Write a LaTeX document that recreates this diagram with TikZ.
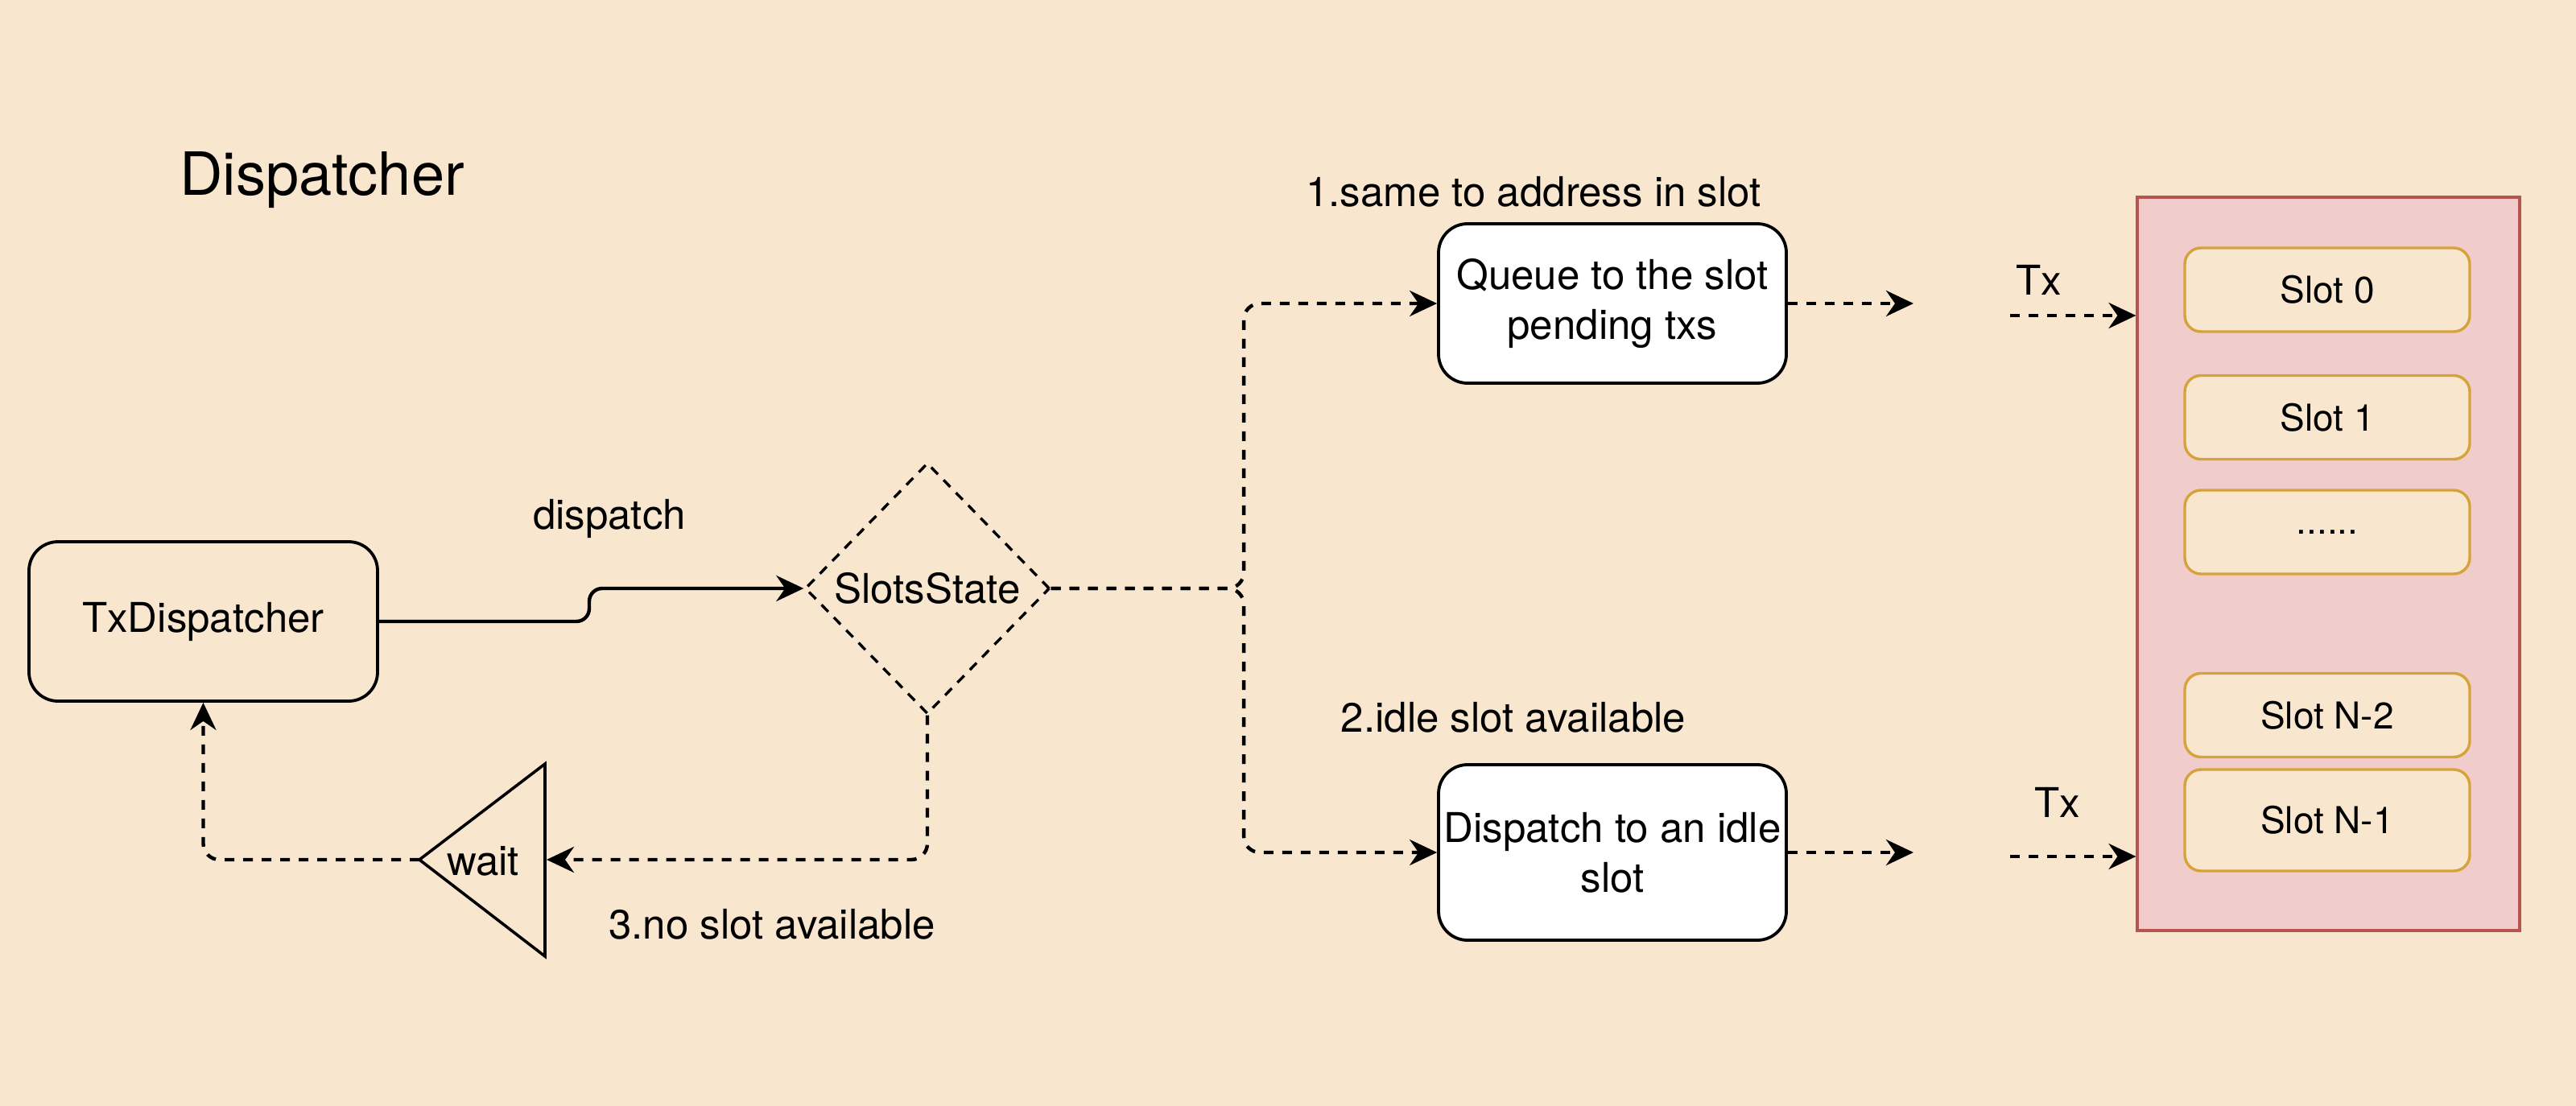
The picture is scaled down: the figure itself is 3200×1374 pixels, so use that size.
\documentclass[tikz,border=0pt]{standalone}
\usepackage{fontspec}
\setmainfont{TeX Gyre Heros}
\usetikzlibrary{shapes.geometric,arrows.meta,calc}
\definecolor{bgc}{RGB}{249,230,207}
\definecolor{pinkf}{RGB}{240,205,203}
\definecolor{pinkb}{RGB}{184,84,80}
\definecolor{slotc}{RGB}{214,162,58}
\begin{document}
\begin{tikzpicture}[x=0.5pt,y=-0.5pt,
  txt/.style={font=\fontsize{25.5}{31.5}\selectfont, inner sep=0pt},
  box/.style={draw=black, line width=1.9pt, rounded corners=18pt, inner sep=0pt, align=center, font=\fontsize{25.5}{31}\selectfont},
  slotbox/.style={draw=slotc, fill=bgc, line width=1.7pt, rounded corners=10pt, minimum width=177pt, minimum height=52pt, inner sep=0pt, font=\fontsize{23}{28}\selectfont},
  dl/.style={line width=2.2pt, dash pattern=on 6pt off 5.5pt},
  arr/.style={-{Stealth[length=17pt,width=16pt,inset=5.5pt]}}
]
\fill[bgc] (0,0) rectangle (3200,1374);
\useasboundingbox (0,0) rectangle (3200,1374);

% title
\node[inner sep=0pt, font=\fontsize{37}{44}\selectfont, anchor=base] (title) at (400,243) {Dispatcher};

% main nodes
\node[box, minimum width=216.5pt, minimum height=99pt] (tx) at (252.5,772) {TxDispatcher};
\node[box, fill=white, minimum width=216pt, minimum height=99pt] (q) at (2003,377) {Queue to the slot\\pending txs};
\node[box, fill=white, minimum width=216pt, minimum height=109pt] (d) at (2003,1059) {Dispatch to an idle\\slot};
\node[diamond, draw, line width=1.7pt, dash pattern=on 6pt off 5pt, minimum width=152pt, minimum height=156pt, txt] (ss) at (1152,731) {SlotsState};

% wait triangle
\draw[line width=1.8pt] (521,1068) -- (677,949) -- (677,1188) -- cycle;
\coordinate (wapex) at (521,1068);
\coordinate (wright) at (679,1068);
\node[txt] (w) at (600,1070) {wait};

% slots container
\node[draw=pinkb, fill=pinkf, line width=1.6pt, minimum width=237.5pt, minimum height=455.5pt, inner sep=0pt] (pink) at (2892.5,700.5) {};
\node[slotbox] (s0) at (2891,360) {Slot 0};
\node[slotbox] (s1) at (2891,518.5) {Slot 1};
\node[slotbox] (s2) at (2891,661) {......};
\node[slotbox] (s3) at (2891,888.5) {Slot N-2};
\node[slotbox, minimum height=63pt] (s4) at (2891,1019) {Slot N-1};

% labels
\node[txt, anchor=base] (ldispatch) at (757,657) {dispatch};
\node[txt, anchor=base] (l1) at (1905,257) {1.same to address in slot};
\node[txt, anchor=base] (l2) at (1880,909) {2.idle slot available};
\node[txt, anchor=base] (l3) at (959,1166) {3.no slot available};
\node[txt, anchor=base] (tx1) at (2533,367) {Tx};
\node[txt, anchor=base] (tx2) at (2556,1015) {Tx};

% connectors
\draw[line width=2.2pt, arr, rounded corners=8pt] (tx.east) -- (732,772) |- (ss.west);
\draw[dl, arr, rounded corners=10pt] (ss.east) -| ([xshift=-120pt]q.west) -- (q.west);
\draw[dl, arr, rounded corners=10pt] (ss.east) -| ([xshift=-120pt]d.west) -- (d.west);

\coordinate (qe) at (2377,377);
\draw[dl, arr] (q.east) -- (qe);
\coordinate (t1) at (2497,392);
\draw[dl, arr] (t1) -- (t1 -| pink.west);
\coordinate (de) at (2377,1059);
\draw[dl, arr] (d.east) -- (de);
\coordinate (t2) at (2497,1064);
\draw[dl, arr] (t2) -- (t2 -| pink.west);

\draw[dl, arr, rounded corners=10pt] (ss.south) |- (wright);
\draw[dl, arr, rounded corners=10pt] (wapex) -| (tx.south);
\end{tikzpicture}
\end{document}
